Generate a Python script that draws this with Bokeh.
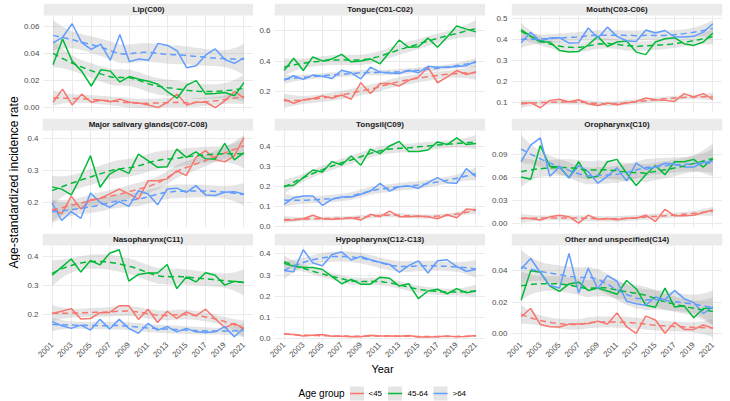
import numpy as np
from math import pi

from bokeh.plotting import figure
from bokeh.layouts import row, column
from bokeh.models import Range1d, FixedTicker, PrintfTickFormatter, BoxAnnotation, Label
from bokeh.embed import file_html
from bokeh.resources import INLINE

# ---------------------------------------------------------------- data
years = list(range(2001, 2022))
year_ticks = list(range(2001, 2022, 2))
age_groups = ["<45", "45-64", ">64"]
age_colors = ["#F8766D", "#00BA38", "#619CFF"]

lip_lt45 = [0.004, 0.0137, 0.002, 0.010, 0.004, 0.0056, 0.0044, 0.0063, 0.004, 0.0034, 0.002,
            0.0, 0.004, 0.010, 0.002, 0.004, 0.004, 0.0, 0.005, 0.012, 0.007]
lip_45_64 = [0.0317, 0.0507, 0.0344, 0.027, 0.016, 0.028, 0.027, 0.019, 0.023, 0.021, 0.0195,
             0.0173, 0.0117, 0.007, 0.0166, 0.020, 0.010, 0.0105, 0.0112, 0.0088, 0.0185]
lip_gt64 = [0.0478, 0.052, 0.062, 0.048, 0.043, 0.047, 0.035, 0.054, 0.034, 0.036, 0.035,
            0.0475, 0.046, 0.042, 0.0295, 0.031, 0.039, 0.0434, 0.0356, 0.0327, 0.0368]

tongue_lt45 = [0.15, 0.124, 0.146, 0.155, 0.172, 0.157, 0.178, 0.15, 0.258, 0.187, 0.252,
               0.254, 0.237, 0.274, 0.295, 0.36, 0.258, 0.297, 0.338, 0.312, 0.33]
tongue_45_64 = [0.338, 0.418, 0.338, 0.427, 0.401, 0.414, 0.444, 0.395, 0.401, 0.414, 0.382,
                0.457, 0.537, 0.49, 0.494, 0.55, 0.49, 0.557, 0.63, 0.609, 0.591]
tongue_gt64 = [0.274, 0.304, 0.28, 0.308, 0.3, 0.286, 0.34, 0.323, 0.284, 0.36, 0.328,
               0.321, 0.319, 0.34, 0.323, 0.366, 0.36, 0.36, 0.364, 0.37, 0.399]

mouth_lt45 = [0.098, 0.1, 0.076, 0.111, 0.116, 0.103, 0.114, 0.095, 0.087, 0.098, 0.09,
              0.098, 0.106, 0.122, 0.114, 0.111, 0.106, 0.143, 0.127, 0.143, 0.116]
mouth_45_64 = [0.448, 0.417, 0.389, 0.389, 0.349, 0.341, 0.344, 0.376, 0.416, 0.368, 0.389,
               0.394, 0.341, 0.329, 0.389, 0.405, 0.41, 0.381, 0.373, 0.389, 0.432]
mouth_gt64 = [0.386, 0.436, 0.392, 0.408, 0.41, 0.384, 0.386, 0.456, 0.408, 0.46, 0.416,
              0.395, 0.392, 0.446, 0.432, 0.444, 0.413, 0.413, 0.416, 0.436, 0.476]

salivary_lt45 = [0.179, 0.164, 0.219, 0.179, 0.208, 0.212, 0.226, 0.241, 0.226, 0.21, 0.267,
                 0.267, 0.273, 0.298, 0.283, 0.34, 0.361, 0.333, 0.326, 0.345, 0.402]
salivary_45_64 = [0.248, 0.241, 0.223, 0.28, 0.345, 0.247, 0.288, 0.304, 0.29, 0.35, 0.33,
                  0.309, 0.311, 0.366, 0.34, 0.357, 0.335, 0.335, 0.384, 0.332, 0.355]
salivary_gt64 = [0.198, 0.143, 0.171, 0.15, 0.229, 0.2, 0.184, 0.202, 0.187, 0.236, 0.226,
                 0.192, 0.241, 0.244, 0.231, 0.252, 0.223, 0.221, 0.231, 0.233, 0.226]

tonsil_lt45 = [0.032, 0.033, 0.04, 0.057, 0.04, 0.037, 0.04, 0.045, 0.033, 0.062, 0.05,
               0.078, 0.05, 0.05, 0.053, 0.05, 0.04, 0.06, 0.045, 0.088, 0.083]
tonsil_45_64 = [0.203, 0.207, 0.245, 0.283, 0.273, 0.325, 0.308, 0.353, 0.307, 0.387, 0.365,
                0.403, 0.425, 0.375, 0.375, 0.383, 0.423, 0.41, 0.443, 0.41, 0.415]
tonsil_gt64 = [0.112, 0.145, 0.153, 0.153, 0.107, 0.137, 0.148, 0.148, 0.162, 0.178, 0.217,
               0.178, 0.2, 0.203, 0.192, 0.22, 0.245, 0.22, 0.217, 0.29, 0.25]

oro_lt45 = [0.0064, 0.006, 0.0039, 0.0081, 0.0103, 0.0081, 0.0, 0.0103, 0.0051, 0.006, 0.0043,
            0.0064, 0.0064, 0.0103, 0.0021, 0.018, 0.0094, 0.0094, 0.0103, 0.0137, 0.0171]
oro_45_64 = [0.06, 0.057, 0.101, 0.074, 0.073, 0.059, 0.08, 0.059, 0.061, 0.08, 0.083,
             0.065, 0.049, 0.063, 0.075, 0.063, 0.08, 0.08, 0.083, 0.073, 0.084]
oro_gt64 = [0.08, 0.1016, 0.111, 0.061, 0.073, 0.059, 0.075, 0.067, 0.052, 0.061, 0.072,
            0.055, 0.078, 0.07, 0.073, 0.078, 0.077, 0.073, 0.073, 0.079, 0.081]

naso_lt45 = [0.202, 0.21, 0.219, 0.183, 0.185, 0.205, 0.206, 0.229, 0.229, 0.182, 0.217,
             0.171, 0.21, 0.185, 0.208, 0.194, 0.217, 0.185, 0.153, 0.168, 0.151]
naso_45_64 = [0.334, 0.362, 0.39, 0.345, 0.385, 0.37, 0.41, 0.422, 0.314, 0.337, 0.342,
              0.342, 0.371, 0.288, 0.328, 0.311, 0.343, 0.334, 0.3, 0.313, 0.309]
naso_gt64 = [0.174, 0.16, 0.151, 0.162, 0.145, 0.182, 0.149, 0.182, 0.151, 0.134, 0.168,
             0.145, 0.157, 0.139, 0.151, 0.139, 0.137, 0.139, 0.157, 0.122, 0.153]

hypo_lt45 = [0.023, 0.02, 0.013, 0.017, 0.02, 0.012, 0.012, 0.01, 0.01, 0.017, 0.013,
             0.013, 0.012, 0.015, 0.008, 0.008, 0.01, 0.013, 0.009, 0.011, 0.015]
hypo_45_64 = [0.355, 0.341, 0.336, 0.336, 0.326, 0.293, 0.259, 0.279, 0.257, 0.257, 0.29,
              0.285, 0.248, 0.259, 0.189, 0.225, 0.233, 0.212, 0.236, 0.217, 0.225]
hypo_gt64 = [0.321, 0.316, 0.419, 0.357, 0.344, 0.397, 0.409, 0.371, 0.388, 0.372, 0.36,
             0.35, 0.313, 0.344, 0.367, 0.31, 0.367, 0.372, 0.34, 0.318, 0.326]

other_lt45 = [0.0106, 0.0159, 0.0057, 0.0042, 0.004, 0.0059, 0.0059, 0.0063, 0.0078, 0.0059, 0.0131,
              0.0042, 0.0, 0.011, 0.0085, 0.0, 0.007, 0.0025, 0.0025, 0.0053, 0.0032]
other_45_64 = [0.0212, 0.0402, 0.0392, 0.0303, 0.0269, 0.0317, 0.0328, 0.0275, 0.029, 0.0271, 0.025,
               0.0339, 0.0286, 0.018, 0.0167, 0.029, 0.0169, 0.0176, 0.01, 0.0159, 0.0163]
other_gt64 = [0.0413, 0.048, 0.039, 0.0307, 0.029, 0.0512, 0.0258, 0.0417, 0.0286, 0.037, 0.0334,
              0.0205, 0.019, 0.018, 0.0233, 0.0216, 0.0275, 0.0222, 0.0197, 0.0127, 0.0169]

panel_titles = ["Lip(C00)", "Tongue(C01-C02)", "Mouth(C03-C06)",
                "Major salivary glands(C07-C08)", "Tongsil(C09)", "Oropharynx(C10)",
                "Nasopharynx(C11)", "Hypopharynx(C12-C13)", "Other and unspecified(C14)"]
panel_series = [
    [lip_lt45, lip_45_64, lip_gt64],
    [tongue_lt45, tongue_45_64, tongue_gt64],
    [mouth_lt45, mouth_45_64, mouth_gt64],
    [salivary_lt45, salivary_45_64, salivary_gt64],
    [tonsil_lt45, tonsil_45_64, tonsil_gt64],
    [oro_lt45, oro_45_64, oro_gt64],
    [naso_lt45, naso_45_64, naso_gt64],
    [hypo_lt45, hypo_45_64, hypo_gt64],
    [other_lt45, other_45_64, other_gt64],
]
panel_tick_labels = [
    ["0.00", "0.02", "0.04", "0.06"],
    ["0.2", "0.4", "0.6"],
    ["0.1", "0.2", "0.3", "0.4", "0.5"],
    ["0.2", "0.3", "0.4"],
    ["0.0", "0.1", "0.2", "0.3", "0.4"],
    ["0.00", "0.03", "0.06", "0.09"],
    ["0.2", "0.3", "0.4"],
    ["0.0", "0.1", "0.2", "0.3", "0.4"],
    ["0.00", "0.02", "0.04"],
]

# ---------------------------------------------------------------- loess smoother
def _t975(df):
    # Cornish-Fisher expansion of the Student t 97.5% quantile
    z = 1.959964
    g1 = (z**3 + z) / 4
    g2 = (5 * z**5 + 16 * z**3 + 3 * z) / 96
    g3 = (3 * z**7 + 19 * z**5 + 17 * z**3 - 15 * z) / 384
    g4 = (79 * z**9 + 776 * z**7 + 1482 * z**5 - 1920 * z**3 - 945 * z) / 92160
    return z + g1 / df + g2 / df**2 + g3 / df**3 + g4 / df**4


def loess_smooth(x, y, xs, span=0.75):
    n = len(x)
    q = int(np.floor(n * span))

    def row_weights(x0):
        d = np.abs(x - x0)
        h = np.sort(d)[q - 1] * 1.0005
        u = d / h
        w = np.where(u < 1, (1 - u**3) ** 3, 0.0)
        X = np.column_stack([np.ones(n), x - x0, (x - x0) ** 2])
        XtW = X.T * w
        return np.linalg.solve(XtW @ X, XtW)[0]

    L = np.array([row_weights(v) for v in x])
    Ls = np.array([row_weights(v) for v in xs])
    R = np.eye(n) - L
    RtR = R.T @ R
    d1 = np.trace(RtR)
    d2 = np.trace(RtR @ RtR)
    resid = y - L @ y
    sigma = np.sqrt(np.sum(resid**2) / d1)
    fit = Ls @ y
    se = sigma * np.sqrt(np.sum(Ls**2, axis=1))
    t = _t975(d1**2 / d2)
    return fit, fit - t * se, fit + t * se


# ---------------------------------------------------------------- layout
FONT = "Liberation Sans"
STRIP_FILL = "#EBEBEB"
GRID_COLOR = "#EBEBEB"
BAND_COLOR = "#999999"
BAND_ALPHA = 0.25

FRAME_W = 211
FRAME_H = 109
STRIP_H = 12
LEFT_BORDERS = [22, 21, 26]
RIGHT_BORDERS = [0, 0, 8]
TOP_BORDER = 3
BOTTOM_BORDERS = [3, 3, 20]

x_grid = np.linspace(2001, 2021, 81)


def make_panel(idx):
    col, rw = idx % 3, idx // 3
    x = np.array(years, dtype=float)
    series = [np.array(s, dtype=float) for s in panel_series[idx]]
    fits = [loess_smooth(x, s, x_grid) for s in series]

    lo = min(min(s.min() for s in series), min(f[1].min() for f in fits))
    hi = max(max(s.max() for s in series), max(f[2].max() for f in fits))
    rng = hi - lo
    lo_e, hi_e = lo - 0.05 * rng, hi + 0.05 * rng
    per_px = (hi_e - lo_e) / (FRAME_H - STRIP_H)
    top = hi_e + STRIP_H * per_px

    labels = panel_tick_labels[idx]
    ticks = [float(s) for s in labels]
    decimals = len(labels[0].split(".")[1])

    p = figure(width=LEFT_BORDERS[col] + FRAME_W + RIGHT_BORDERS[col],
               height=TOP_BORDER + FRAME_H + BOTTOM_BORDERS[rw],
               x_range=Range1d(2000, 2022), y_range=Range1d(lo_e, top),
               output_backend="svg", toolbar_location=None,
               min_border_left=LEFT_BORDERS[col], min_border_right=RIGHT_BORDERS[col],
               min_border_top=TOP_BORDER, min_border_bottom=BOTTOM_BORDERS[rw],
               background_fill_color="white", border_fill_color="white",
               outline_line_color=None)

    # confidence bands, observed series, loess trend
    for (fit, low, upp) in fits:
        p.varea(x=x_grid, y1=low, y2=upp, fill_color=BAND_COLOR, fill_alpha=BAND_ALPHA)
    for s, c in zip(series, age_colors):
        p.line(x=x, y=s, line_color=c, line_width=1.5)
    for (fit, low, upp), c in zip(fits, age_colors):
        p.line(x=x_grid, y=fit, line_color=c, line_width=1.5, line_dash="6 4")

    # axes
    p.yaxis.ticker = FixedTicker(ticks=ticks)
    p.yaxis.formatter = PrintfTickFormatter(format="%%.%df" % decimals)
    p.xaxis.ticker = FixedTicker(ticks=year_ticks)
    p.xgrid.ticker = FixedTicker(ticks=year_ticks)
    p.ygrid.ticker = FixedTicker(ticks=ticks)
    for ax in (p.xaxis, p.yaxis):
        ax.axis_line_color = None
        ax.major_tick_line_color = None
        ax.minor_tick_line_color = None
        ax.major_tick_out = 0
        ax.major_tick_in = 0
        ax.major_label_text_font = FONT
        ax.major_label_text_font_size = "8px"
        ax.major_label_text_color = "#4D4D4D"
    p.yaxis.major_label_standoff = 4
    p.xaxis.major_label_standoff = 2
    p.xaxis.major_label_orientation = pi / 4
    if rw < 2:
        p.xaxis.visible = False
    p.xgrid.grid_line_color = GRID_COLOR
    p.ygrid.grid_line_color = GRID_COLOR
    p.xgrid.grid_line_width = 1
    p.ygrid.grid_line_width = 1

    # facet strip
    p.add_layout(BoxAnnotation(bottom=hi_e, top=top, fill_color=STRIP_FILL, fill_alpha=1.0,
                               line_color=None))
    p.add_layout(Label(x=2011, y=hi_e + STRIP_H * per_px / 2, text=panel_titles[idx],
                       text_align="center", text_baseline="middle", text_font=FONT,
                       text_font_size="8px", text_font_style="bold", text_color="#1A1A1A"))
    return p


panels = [make_panel(i) for i in range(9)]
grid_height = sum(TOP_BORDER + FRAME_H + b for b in BOTTOM_BORDERS)

# y-axis title
ytitle = figure(width=20, height=grid_height, x_range=Range1d(0, 20),
                y_range=Range1d(grid_height, 0), output_backend="svg", toolbar_location=None,
                min_border=0, outline_line_color=None, x_axis_location=None,
                y_axis_location=None)
ytitle.grid.visible = False
ytitle.add_layout(Label(x=13, y=182, text="Age-standardized incidence rate", angle=pi / 2,
                        text_align="center", text_baseline="middle", text_font=FONT,
                        text_font_size="12px", text_color="black"))

# x-axis title and legend
LEG_H = 401 - grid_height
legend = figure(width=730, height=LEG_H, x_range=Range1d(0, 730), y_range=Range1d(LEG_H, 0),
                output_backend="svg", toolbar_location=None, min_border=0,
                outline_line_color=None, x_axis_location=None, y_axis_location=None)
legend.grid.visible = False
legend.add_layout(Label(x=382, y=6, text="Year", text_align="center", text_baseline="middle",
                        text_font=FONT, text_font_size="11px", text_color="black"))
leg_y = 31
legend.add_layout(Label(x=298, y=leg_y, text="Age group", text_align="left",
                        text_baseline="middle", text_font=FONT, text_font_size="10px",
                        text_color="black"))
key_x = [356.5, 394.5, 440]
text_x = [368, 407, 452]
legend.rect(x=key_x, y=leg_y, width=14, height=14, fill_color=BAND_COLOR,
            fill_alpha=BAND_ALPHA, line_color=None)
legend.segment(x0=[k - 7 for k in key_x], x1=[k + 7 for k in key_x], y0=leg_y, y1=leg_y,
               line_color=age_colors, line_width=1.5)
for tx, lab in zip(text_x, age_groups):
    legend.add_layout(Label(x=tx, y=leg_y, text=lab, text_align="left", text_baseline="middle",
                            text_font=FONT, text_font_size="8px", text_color="black"))

grid = column(row(*panels[0:3]), row(*panels[3:6]), row(*panels[6:9]))
layout = column(row(ytitle, grid), legend)

open("out.html", "w").write(file_html(layout, INLINE))
